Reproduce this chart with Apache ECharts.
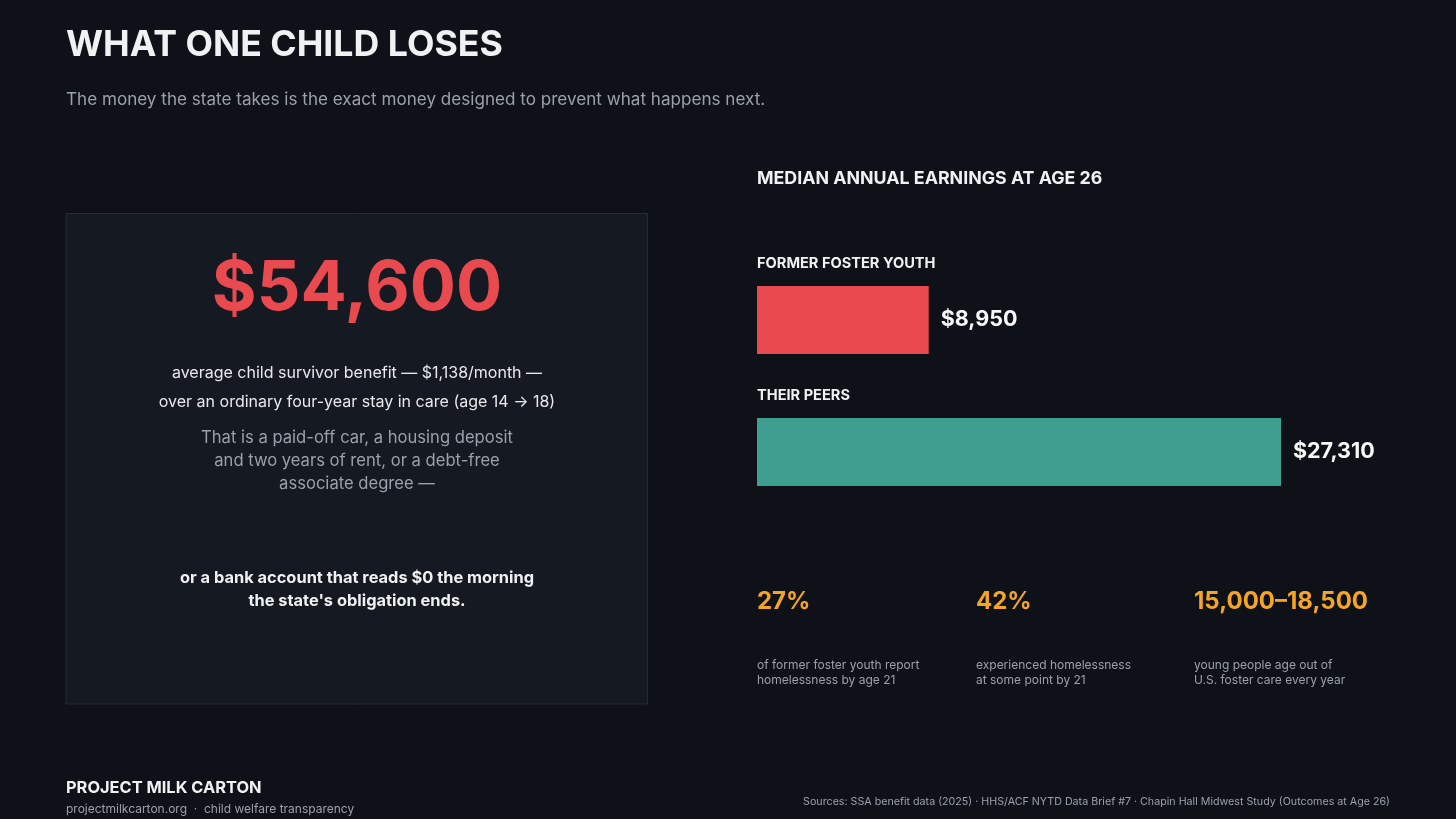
<!DOCTYPE html>
<html>
<head>
<meta charset="utf-8">
<title>What one child loses</title>
<script src="https://cdn.jsdelivr.net/npm/echarts@6/dist/echarts.min.js"></script>
<style>
  html, body { margin: 0; padding: 0; background: #0e1117; }
  #main { width: 1456px; height: 819px; }
</style>
</head>
<body>
<div id="main"></div>
<script>
// earnings at age 26
var groups = ['FORMER FOSTER YOUTH', 'THEIR PEERS'];
var earnings = [8950, 27310];
var barColors = ['#e84a50', '#3e9e90'];

// stat row
var statValues = ['27%', '42%', '15,000\u201318,500'];
var statNotes = [
  'of former foster youth report\nhomelessness by age 21',
  'experienced homelessness\nat some point by 21',
  'young people age out of\nU.S. foster care every year'
];

var FONT = 'Inter, "Noto Sans", sans-serif';
var bg = '#0e1117';
var gray = '#9ba1ab';

function txt(x, y, s, size, weight, color, align, lh) {
  return {
    type: 'text',
    silent: true,
    style: {
      x: x, y: y, text: s,
      fill: color,
      font: weight + ' ' + size + 'px ' + FONT,
      textAlign: align || 'left',
      textVerticalAlign: 'middle',
      lineHeight: lh || size * 1.3
    }
  };
}

var graphics = [
  txt(66, 45, 'WHAT ONE CHILD LOSES', 35.7, 'bold', '#f0f1f3'),
  txt(66, 99.5, 'The money the state takes is the exact money designed to prevent what happens next.', 17.1, 'normal', gray),
  txt(757, 179, 'MEDIAN ANNUAL EARNINGS AT AGE 26', 17.8, 'bold', '#f0f1f3'),
  {
    type: 'rect', silent: true,
    shape: { x: 66, y: 213.5, width: 581.5, height: 490.5 },
    style: { fill: '#151921', stroke: '#262b34', lineWidth: 1 }
  },
  txt(357, 289, '$54,600', 68.5, 'bold', '#e84a50', 'center'),
  txt(357, 373, 'average child survivor benefit \u2014 $1,138/month \u2014', 16, 'normal', '#e8e9ec', 'center'),
  txt(357, 402, 'over an ordinary four-year stay in care (age 14 \u2192 18)', 16, 'normal', '#e8e9ec', 'center'),
  txt(357, 460.5, 'That is a paid-off car, a housing deposit\nand two years of rent, or a debt-free\nassociate degree \u2014', 16.6, 'normal', gray, 'center', 23),
  txt(357, 589.5, 'or a bank account that reads $0 the morning\nthe state\'s obligation ends.', 16.4, 'bold', '#f0f1f3', 'center', 23),
  txt(66, 788.5, 'PROJECT MILK CARTON', 16.4, 'bold', '#f0f1f3'),
  txt(66, 809.5, 'projectmilkcarton.org  \u00b7  child welfare transparency', 12, 'normal', gray),
  txt(1390, 801.5, 'Sources: SSA benefit data (2025) \u00b7 HHS/ACF NYTD Data Brief #7 \u00b7 Chapin Hall Midwest Study (Outcomes at Age 26)', 10.7, 'normal', gray, 'right')
];

var statX = [757, 976, 1194];
for (var i = 0; i < statValues.length; i++) {
  graphics.push(txt(statX[i], 602, statValues[i], 24, 'bold', '#f5a524'));
  graphics.push(txt(statX[i], 673, statNotes[i], 12, 'normal', gray, 'left', 15));
}

var chart = echarts.init(document.getElementById('main'));
chart.setOption({
  backgroundColor: bg,
  animation: false,
  grid: { left: 757, top: 254, width: 524, height: 264 },
  xAxis: {
    type: 'value', min: 0, max: 27310,
    show: false
  },
  yAxis: {
    type: 'category',
    data: groups,
    inverse: true,
    axisLine: { show: false },
    axisTick: { show: false },
    axisLabel: {
      inside: true,
      interval: 0,
      margin: 0,
      align: 'left',
      verticalAlign: 'bottom',
      padding: [0, 0, 49, 0],
      color: '#f0f1f3',
      fontFamily: FONT,
      fontWeight: 'bold',
      fontSize: 14.6
    }
  },
  series: [{
    type: 'bar',
    barWidth: 68,
    data: earnings.map(function (v, i) {
      return { value: v, itemStyle: { color: barColors[i] } };
    }),
    label: {
      show: true,
      position: 'right',
      distance: 12,
      color: '#f7f7f8',
      fontFamily: FONT,
      fontWeight: 'bold',
      fontSize: 21.5,
      formatter: function (p) { return '$' + p.value.toLocaleString('en-US'); }
    }
  }],
  graphic: graphics
});
</script>
</body>
</html>
